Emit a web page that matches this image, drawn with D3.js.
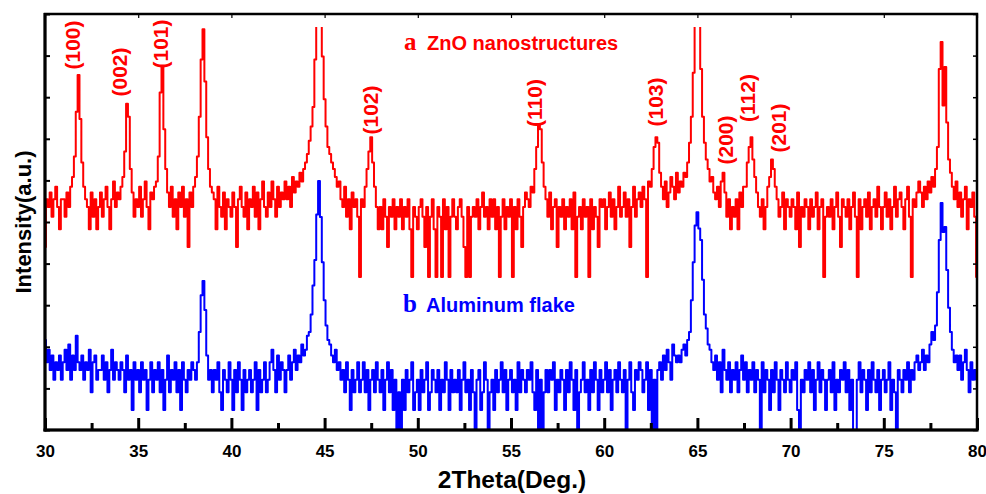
<!DOCTYPE html>
<html><head><meta charset="utf-8">
<script src="https://cdn.jsdelivr.net/npm/d3@7"></script>
<style>
body{margin:0;background:#fff;}
svg{display:block;}
text{font-family:"Liberation Sans",Arial,sans-serif;font-weight:bold;}
</style>
</head><body>
<svg id="chart" width="986" height="494"></svg>
<script>
// ---------- data ----------
const thetaStart = 30, thetaStep = 0.1;   // 2θ sampling grid (30.0 … 80.0)

// a: ZnO nanostructures (counts)
const znoCounts = [
  2,6,5,7,4,6,8,5,3,6,
  6,4,7,5,8,10,16,45,105,38,
  14,8,6,5,3,7,4,6,3,5,
  7,4,6,8,5,3,6,9,5,7,
  6,8,10,18,54,40,12,7,4,6,
  5,8,4,6,9,5,3,7,6,8,
  9,16,70,126,30,12,7,5,8,4,
  6,3,7,5,8,4,6,2,7,5,
  8,10,16,40,150,300,90,25,12,8,
  7,6,3,8,5,4,7,3,6,5,
  4,7,5,2,6,8,5,4,7,3,
  6,5,8,4,7,3,6,9,5,4,
  7,5,9,6,4,8,5,7,6,9,
  6,8,5,10,7,9,8,11,9,12,
  14,17,23,32,50,150,600,1000,800,160,
  60,32,20,17,14,12,10,8,9,6,
  5,8,4,6,3,7,5,6,4,1,
  6,5,8,12,18,25,14,8,5,3,
  5,3,6,4,2,5,4,6,3,5,
  4,6,3,5,4,6,3,1,5,4,
  3,5,6,4,2,5,1,4,6,3,
  1,5,4,1,6,3,5,1,4,6,
  4,3,5,6,4,2,1,5,1,4,
  5,4,6,3,5,7,4,5,3,6,
  4,6,3,5,1,4,6,3,5,4,
  6,1,5,3,6,4,2,5,7,6,
  5,8,7,12,20,33,30,14,8,6,
  4,7,3,5,6,2,5,4,6,3,
  5,4,6,3,7,1,4,5,3,6,
  4,5,1,6,3,5,4,2,6,5,
  6,3,5,7,4,6,3,5,8,4,
  5,7,4,6,2,5,8,4,6,7,
  5,8,6,1,9,8,12,20,25,22,
  11,8,6,9,5,7,10,8,6,11,
  7,9,8,11,10,14,22,40,110,600,
  1000,800,120,40,22,15,12,9,10,7,
  6,8,5,9,11,7,4,6,3,5,
  4,6,3,7,5,8,8,14,20,25,
  15,10,7,5,4,6,3,5,8,10,
  15,12,8,6,4,5,7,3,6,5,
  4,6,5,3,7,2,5,4,6,5,
  3,6,4,5,7,3,5,6,1,4,
  5,4,6,3,5,7,4,2,6,5,
  4,6,3,5,7,4,1,6,3,5,
  6,4,7,3,5,6,4,8,5,3,
  5,7,4,6,3,5,8,4,6,7,
  5,3,6,8,4,1,6,5,7,9,
  7,5,8,6,9,7,10,8,12,20,
  120,224,52,126,35,15,11,8,6,9,
  5,7,4,6,8,3,6,5,7,4,
  1
];

// b: Aluminum flake (counts)
const alCounts = [
  10,6,8,5,7,4,6,5,7,4,
  6,8,5,9,4,7,5,11,6,5,
  7,4,6,5,8,3,6,7,4,5,
  5,7,4,6,3,5,8,4,6,5,
  4,6,5,3,7,4,5,2,6,4,
  5,3,6,4,5,2,4,6,3,5,
  4,6,3,5,2,4,7,3,5,4,
  6,3,5,2,6,4,3,5,4,6,
  5,4,6,12,28,39,20,7,4,5,
  3,5,4,6,3,2,5,4,3,6,
  4,2,5,3,6,4,2,5,3,4,
  5,3,4,6,2,5,3,4,6,3,
  4,6,8,5,3,7,4,6,5,3,
  5,7,4,6,8,5,7,6,9,7,
  8,11,12,18,35,63,180,390,170,60,
  25,14,10,9,7,6,8,5,6,4,
  5,3,6,4,2,5,3,4,6,3,
  4,6,3,5,2,4,5,3,6,4,
  3,5,2,4,6,3,5,2,4,1,
  3,1,4,2,5,3,4,6,2,3,
  4,2,5,3,4,6,2,3,5,4,
  3,5,2,4,3,6,4,2,5,3,
  4,3,5,2,4,6,3,4,2,5,
  3,1,4,5,2,3,6,4,1,3,
  4,2,5,3,4,6,3,5,2,4,
  5,3,4,2,6,3,5,4,3,5,
  4,6,3,2,5,1,4,1,3,5,
  3,5,4,6,2,4,3,5,4,2,
  5,3,6,4,2,5,1,3,4,6,
  3,4,2,5,3,6,4,2,5,3,
  4,6,3,5,2,4,5,3,6,4,
  3,5,1,4,6,3,2,5,4,6,
  5,3,4,6,2,5,1,4,1,5,
  6,4,7,5,8,6,4,9,7,6,
  7,6,8,9,7,10,12,25,60,140,
  190,130,100,40,18,13,9,8,6,5,
  7,4,6,3,8,5,4,6,3,5,
  4,6,3,5,7,4,6,3,5,4,
  6,3,5,4,1,6,3,5,4,2,
  5,3,6,4,2,5,4,3,6,4,
  3,5,4,6,2,1,4,3,5,4,
  6,3,5,2,4,6,3,5,4,2,
  4,5,3,6,2,4,3,5,4,6,
  3,5,2,4,1,1,4,6,3,5,
  4,2,5,3,6,4,3,5,2,4,
  5,3,4,6,2,4,3,1,5,4,
  3,5,4,6,3,5,4,6,7,5,
  6,8,5,7,6,9,12,10,14,30,
  100,235,120,135,50,21,12,8,6,7,
  5,7,4,6,8,5,3,6,4,5,
  4
];

const seriesLetters = ["a", "b"];
const seriesNames = ["ZnO nanostructures", "Aluminum flake"];
const xTickValues = [30, 35, 40, 45, 50, 55, 60, 65, 70, 75, 80];
const xMinorTickValues = [32.5, 37.5, 42.5, 47.5, 52.5, 57.5, 62.5, 67.5, 72.5, 77.5];
const peakLabels = ["(100)", "(002)", "(101)", "(102)", "(110)", "(103)", "(200)", "(112)", "(201)"];
const peakLabelTheta = [31.56, 34.08, 36.28, 47.54, 56.34, 62.83, 66.59, 67.77, 69.43];
const xTitle = "2Theta(Deg.)";
const yTitle = "Intensity(a.u.)";

// ---------- layout ----------
const L = 45, R = 977, T = 14, B = 430;
const znoOffset = Math.pow(10, 1.63);      // vertical stacking offset of curve a (log space)
const peakLabelY = [45, 72, 44, 110, 103, 102, 140, 98, 128];
const red = "#ff0000", blue = "#0000ff";

const svg = d3.select("#chart");
const x = d3.scaleLinear().domain([30, 80]).range([L, R]);
const y = d3.scaleLog().domain([Math.pow(10, 0.1), Math.pow(10, 4.26)]).range([B, T]);
const yAu = d3.scaleLinear().domain([0, 10]).range([B, T]);

const defs = svg.append("defs");
defs.append("clipPath").attr("id", "clipA").append("rect")
  .attr("x", L).attr("y", 27).attr("width", R - L).attr("height", B - 27);
defs.append("clipPath").attr("id", "clipB").append("rect")
  .attr("x", L).attr("y", T).attr("width", R - L).attr("height", B - T);

const lineA = d3.line().curve(d3.curveStep).x((d, i) => x(thetaStart + i * thetaStep)).y(d => y(d * znoOffset));
const lineB = d3.line().curve(d3.curveStep).x((d, i) => x(thetaStart + i * thetaStep)).y(d => y(d));

svg.append("path").datum(znoCounts).attr("clip-path", "url(#clipA)")
  .attr("d", lineA).attr("fill", "none").attr("stroke", red)
  .attr("stroke-width", 2).attr("stroke-linejoin", "round");
svg.append("path").datum(alCounts).attr("clip-path", "url(#clipB)")
  .attr("d", lineB).attr("fill", "none").attr("stroke", blue)
  .attr("stroke-width", 2).attr("stroke-linejoin", "round");

// ---------- axes ----------
const gx = svg.append("g").attr("transform", `translate(0,${B})`)
  .call(d3.axisBottom(x).tickValues(xTickValues).tickFormat(d3.format("d")).tickSize(-12).tickPadding(15));
gx.select(".domain").remove();
gx.selectAll("line").attr("stroke", "#000").attr("stroke-width", 3);
gx.selectAll("text").attr("font-size", 17).attr("fill", "#000")
  .style("font-family", "'Liberation Sans',Arial,sans-serif").style("font-weight", "bold");

const gxm = svg.append("g").attr("transform", `translate(0,${B})`)
  .call(d3.axisBottom(x).tickValues(xMinorTickValues).tickFormat("").tickSize(-7));
gxm.select(".domain").remove();
gxm.selectAll("line").attr("stroke", "#000").attr("stroke-width", 3);

const gt = svg.append("g").attr("transform", `translate(0,${T})`)
  .call(d3.axisTop(x).tickValues(xTickValues).tickFormat("").tickSize(-4));
gt.select(".domain").remove();
gt.selectAll("line").attr("stroke", "#000").attr("stroke-width", 1.2);

const gl = svg.append("g").attr("transform", `translate(${L},0)`)
  .call(d3.axisLeft(yAu).ticks(10).tickFormat("").tickSize(-5));
gl.select(".domain").remove();
gl.selectAll("line").attr("stroke", "#000").attr("stroke-width", 2);

const gr = svg.append("g").attr("transform", `translate(${R},0)`)
  .call(d3.axisRight(yAu).ticks(10).tickFormat("").tickSize(-4));
gr.select(".domain").remove();
gr.selectAll("line").attr("stroke", "#000").attr("stroke-width", 1.5);

// frame
svg.append("rect").attr("x", L).attr("y", T).attr("width", R - L).attr("height", B - T)
  .attr("fill", "none").attr("stroke", "#000").attr("stroke-width", 2.5);
svg.append("line").attr("x1", L).attr("x2", L).attr("y1", T - 1).attr("y2", B + 1.5)
  .attr("stroke", "#000").attr("stroke-width", 3);
svg.append("line").attr("x1", L - 1.5).attr("x2", R + 1.5).attr("y1", B).attr("y2", B)
  .attr("stroke", "#000").attr("stroke-width", 3);

// ---------- titles ----------
svg.append("text").attr("x", 512).attr("y", 488).attr("text-anchor", "middle")
  .attr("font-size", 24.5).attr("fill", "#000").text(xTitle);
svg.append("text").attr("transform", `translate(31,${(T + B) / 2}) rotate(-90)`)
  .attr("text-anchor", "middle").attr("font-size", 22).attr("fill", "#000").text(yTitle);

// ---------- series labels ----------
const legendPos = [[404, 50, red], [403, 312, blue]];
seriesNames.forEach((name, i) => {
  const [lx, ly, col] = legendPos[i];
  svg.append("text").attr("x", lx).attr("y", ly).attr("fill", col)
    .style("font-family", "'Liberation Serif','Times New Roman',serif")
    .attr("font-size", 25).text(seriesLetters[i]);
  svg.append("text").attr("x", lx + 23).attr("y", ly).attr("fill", col)
    .attr("font-size", 20).text(name);
});

// ---------- peak labels ----------
peakLabels.forEach((lab, i) => {
  svg.append("text")
    .attr("transform", `translate(${x(peakLabelTheta[i])},${peakLabelY[i]}) rotate(-90)`)
    .attr("text-anchor", "middle").attr("dy", "0.27em")
    .attr("font-size", 21).attr("fill", red).text(lab);
});
</script>
</body></html>
